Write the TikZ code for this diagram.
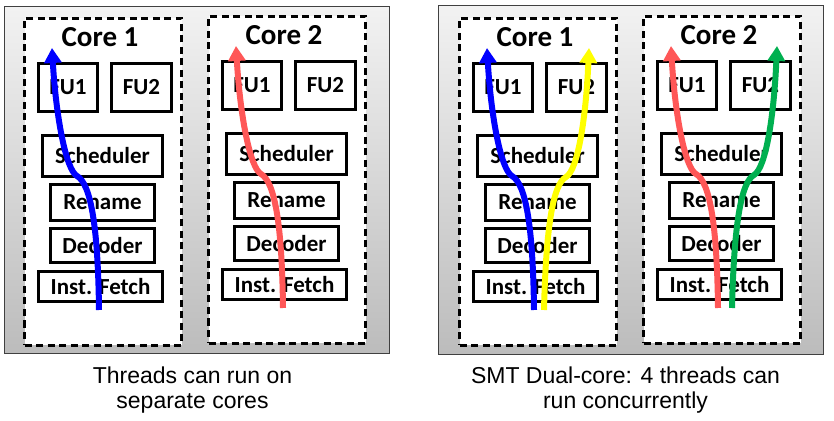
\documentclass[tikz,border=0pt]{standalone}
\usepackage{fontspec}
\setmainfont{Carlito}
\newfontfamily\capfont{Liberation Sans}
\usetikzlibrary{positioning, calc, arrows.meta}
\definecolor{ThreadBlue}{HTML}{0000FF}
\definecolor{ThreadRed}{HTML}{FF5757}
\definecolor{ThreadYellow}{HTML}{FFFF00}
\definecolor{ThreadGreen}{HTML}{00B050}
\definecolor{PanelTop}{HTML}{F2F2F2}
\definecolor{PanelBottom}{HTML}{BCBCBC}

\begin{document}
\begin{tikzpicture}[
    x=1pt, y=1pt,
    panel/.style={draw=black!75, line width=1pt, top color=PanelTop, bottom color=PanelBottom, inner sep=0pt},
    coreBox/.style={draw, line width=3pt, dash pattern=on 7pt off 4.5pt, fill=white, minimum width=157pt, minimum height=327pt, inner sep=0pt},
    unitKey/.style={draw, line width=3pt, fill=white, inner sep=0pt, font=\bfseries\fontsize{23}{25}\selectfont},
    coreTitle/.style={inner sep=0pt, font=\bfseries\fontsize{29}{31}\selectfont},
    thread/.style={line width=6pt, -{Triangle[width=17pt, length=15pt]}},
    caption/.style={inner sep=0pt, align=center, font=\capfont\fontsize{23}{25}\selectfont},
  ]
  \useasboundingbox (0,0) rectangle (834,420);
  % panels
  \node[panel, minimum width=385pt, minimum height=346pt] (leftPanel) at (196.5,240) {};
  \node[panel, minimum width=385pt, minimum height=348pt] (rightPanel) at (630.5,240) {};
  % cores
  \foreach \n/\sx/\sy/\t/\b in {L1/23/73/1/0, L2/207/75/2/0, R1/458/73/1/0, R2/642/75/2/4} {
    \begin{scope}[shift={(\sx,\sy)}]
      \node[coreBox] (\n) at (80,165) {};
      \node[coreTitle] (\n-title) at (77,310) {Core \t};
      \node[unitKey, minimum width=59pt, minimum height=48pt] (\n-fu1) at (45,259.5) {FU1};
      \node[unitKey, minimum width=60pt, minimum height=48pt] (\n-fu2) at (118.5,259.5) {FU2};
      \node[unitKey, minimum width=120pt, minimum height=41pt] (\n-sched) at (79.5,191) {Scheduler};
      \node[unitKey, minimum width=104pt, minimum height=36pt] (\n-rename) at (79.5,144.5) {Rename};
      \node[unitKey, minimum width=104pt, minimum height=34pt] (\n-decode) at (79.5,101.5) {Decoder};
      \node[unitKey, minimum width=124pt, minimum height=30pt] (\n-fetch) at (77.5,60.5) {Inst. Fetch};
      \coordinate (\n-inA) at (76,37);
      \coordinate (\n-bendA) at (54,171);
      \coordinate (\n-outA) at (29,299);
      \coordinate (\n-inB) at (86+\b,37);
      \coordinate (\n-bendB) at (108+\b,170);
      \coordinate (\n-outB) at (131+\b,299);
    \end{scope}
  }
  % threads
  \draw[thread, ThreadBlue] (L1-inA) .. controls +(-1,83) and +(14,-8) .. (L1-bendA) .. controls +(-11,6) and +(4,-69) .. (L1-outA);
  \draw[thread, ThreadRed] (L2-inA) .. controls +(-1,83) and +(14,-8) .. (L2-bendA) .. controls +(-11,6) and +(4,-69) .. (L2-outA);
  \draw[thread, ThreadBlue] (R1-inA) .. controls +(-1,83) and +(14,-8) .. (R1-bendA) .. controls +(-11,6) and +(4,-69) .. (R1-outA);
  \draw[thread, ThreadYellow] (R1-inB) .. controls +(2,83) and +(-13,-7) .. (R1-bendB) .. controls +(12,7) and +(-3,-69) .. (R1-outB);
  \draw[thread, ThreadRed] (R2-inA) .. controls +(-1,83) and +(14,-8) .. (R2-bendA) .. controls +(-11,6) and +(4,-69) .. (R2-outA);
  \draw[thread, ThreadGreen] (R2-inB) .. controls +(2,83) and +(-13,-7) .. (R2-bendB) .. controls +(12,7) and +(-3,-69) .. (R2-outB);
  % captions
  \node[caption, anchor=base] (leftCaption) at (192.5,12) {Threads can run on\\separate cores};
  \node[caption, anchor=base] (rightCaption) at (625.5,12) {SMT Dual-core: 4 threads can\\run concurrently};
\end{tikzpicture}
\end{document}
